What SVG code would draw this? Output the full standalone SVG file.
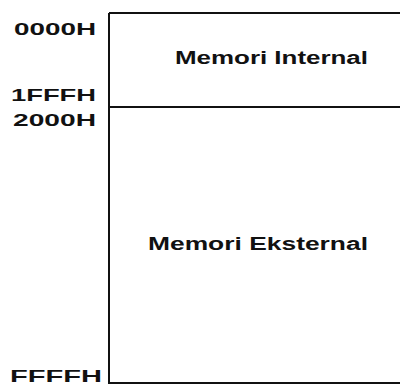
<svg xmlns="http://www.w3.org/2000/svg" width="400" height="385" viewBox="0 0 400 385">
<style>
text{font-family:"Liberation Sans",Arial,sans-serif;font-weight:bold;fill:#111}
.lbl{font-size:17px}
.name{font-size:18px}
.ln{stroke:#111;stroke-width:2;fill:none}
</style>
<rect width="400" height="385" fill="#fff"/>
<g id="connectors">
<path class="ln" d="M109,13 V383 H400"/>
<path class="ln" d="M109,13 H400"/>
<path class="ln" d="M109,107 H400"/>
</g>
<g id="internal">
<text class="name" x="175" y="64" textLength="193" lengthAdjust="spacingAndGlyphs">Memori Internal</text>
</g>
<g id="eksternal">
<text class="name" x="148" y="250" textLength="220" lengthAdjust="spacingAndGlyphs">Memori Eksternal</text>
</g>
<g id="labels">
<text class="lbl" x="14" y="35" textLength="82" lengthAdjust="spacingAndGlyphs">0000H</text>
<text class="lbl" x="11" y="101" textLength="85" lengthAdjust="spacingAndGlyphs">1FFFH</text>
<text class="lbl" x="13" y="126" textLength="83" lengthAdjust="spacingAndGlyphs">2000H</text>
<text class="lbl" x="10" y="382" textLength="92" lengthAdjust="spacingAndGlyphs">FFFFH</text>
</g>
</svg>
